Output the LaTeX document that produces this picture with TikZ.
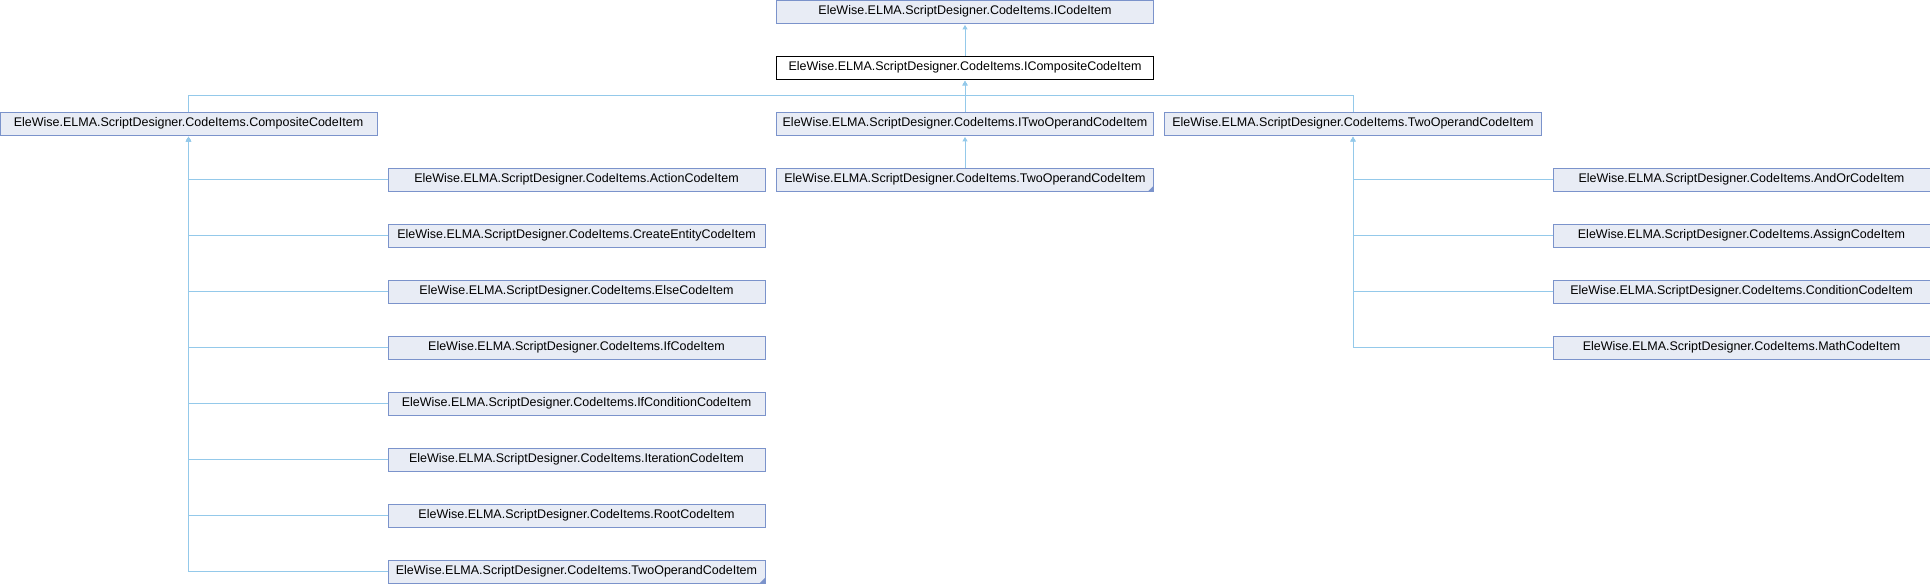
\documentclass[tikz,border=0pt]{standalone}
\usepackage{fontspec}
\setmainfont{Liberation Sans}
\usetikzlibrary{arrows.meta}
\definecolor{edgeblue}{HTML}{94C9EA}
\definecolor{boxline}{HTML}{7B93CB}
\definecolor{boxfill}{HTML}{E8ECF5}
\tikzset{
  cls/.style={draw=boxline,fill=boxfill,line width=0.8pt,minimum width=377pt,minimum height=23pt,inner sep=0pt,font=\fontsize{12.5}{14}\selectfont},
  inh/.style={draw=edgeblue,line width=0.9pt,-{Triangle[width=5pt,length=4.5pt]},shorten >=1.5pt},
}
\newcommand{\ns}{EleWise.ELMA.ScriptDesigner.CodeItems.}
\begin{document}
\begin{tikzpicture}[x=1pt,y=-1pt]
	\useasboundingbox (0,0) rectangle (1930,584);
	\node[cls] (icode) at (965,11.5) {\ns ICodeItem};
	\node[cls,fill=white,draw=black] (icomp) at (965,67.5) {\ns ICompositeCodeItem};
	\node[cls] (comp) at (188.5,123.5) {\ns CompositeCodeItem};
	\node[cls] (itwo) at (965,123.5) {\ns ITwoOperandCodeItem};
	\node[cls] (two) at (1353,123.5) {\ns TwoOperandCodeItem};
	\node[cls] (itwosub) at (965,179.5) {\ns TwoOperandCodeItem};
	\coordinate (bus) at (965,95.5); % duong ngang chung
	\draw[inh] (icomp.north) -- (icode.south);
	\draw[inh] (comp.north) |- (bus) -- (icomp.south);
	\draw[inh] (two.north) |- (bus) -- (icomp.south);
	\draw[inh] (itwo.north) -- (icomp.south);
	\draw[inh] (itwosub.north) -- (itwo.south);
	% lop con cua CompositeCodeItem
	\foreach \n/\t [count=\i] in {act/ActionCodeItem,create/CreateEntityCodeItem,else/ElseCodeItem,if/IfCodeItem,ifcond/IfConditionCodeItem,iter/IterationCodeItem,root/RootCodeItem,twosub/TwoOperandCodeItem}{
		\node[cls] (\n) at (576.5,{123.5+56*\i}) {\ns\t};
		\draw[inh] (\n.west) -| (comp.south);
	}
	% lop con cua TwoOperandCodeItem
	\foreach \n/\t [count=\i] in {andor/AndOrCodeItem,assign/AssignCodeItem,cond/ConditionCodeItem,math/MathCodeItem}{
		\node[cls] (\n) at (1741.5,{123.5+56*\i}) {\ns\t};
		\draw[inh] (\n.west) -| (two.south);
	}
	\fill[boxline] (itwosub.south east) -- ++(-6,0) -- ++(6,-6) -- cycle;
	\fill[boxline] (twosub.south east) -- ++(-6,0) -- ++(6,-6) -- cycle;
\end{tikzpicture}
\end{document}
